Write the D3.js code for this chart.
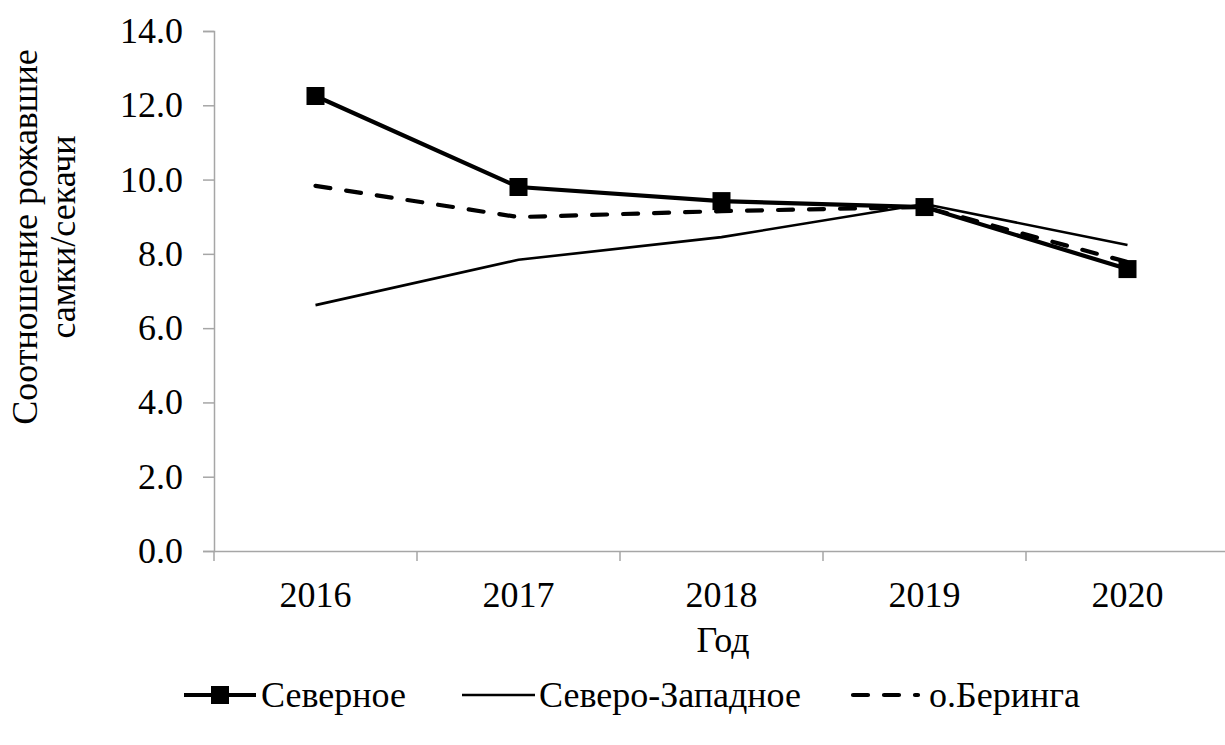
<!DOCTYPE html>
<html><head><meta charset="utf-8">
<script src="https://cdn.jsdelivr.net/npm/d3@7"></script>
<style>body{margin:0;background:#fff}svg{display:block}</style>
</head><body>
<svg id="c" width="1225" height="745"></svg>
<script>
const years = ["2016","2017","2018","2019","2020"];
const severnoe = [12.25, 9.80, 9.42, 9.26, 7.59];
const severoZapadnoe = [6.62, 7.84, 8.45, 9.34, 8.24];
const beringa = [9.83, 8.99, 9.15, 9.26, 7.78];
const yTicks = [0,2,4,6,8,10,12,14];
const seriesNames = ["Северное","Северо-Западное","о.Беринга"];

(function(){
const svg = d3.select("#c");
const pLeft = 214, pRight = 1229, pTop = 31, pBottom = 551;
const x = d3.scaleBand().domain(years).range([pLeft, pRight]);
const y = d3.scaleLinear().domain([0,14]).range([pBottom, pTop]);
const axisColor = "#a6a6a6";
const FS = "36px";

const ya = svg.append("g").attr("transform",`translate(${pLeft},0)`)
  .call(d3.axisLeft(y).tickValues(yTicks).tickFormat(d3.format(".1f")).tickSize(11).tickPadding(20));
ya.select(".domain").attr("stroke",axisColor).attr("stroke-width",1.5);
ya.selectAll(".tick line").attr("stroke",axisColor).attr("stroke-width",1.5);

const xa = svg.append("g").attr("transform",`translate(0,${pBottom})`)
  .call(d3.axisBottom(x).tickSize(0).tickPadding(30));
xa.select(".domain").attr("stroke",axisColor).attr("stroke-width",1.5);
const bounds = years.map(d => x(d)).concat([x(years[years.length-1]) + x.bandwidth()]);
xa.selectAll(".bt").data(bounds).enter().append("line")
  .attr("x1",d=>d).attr("x2",d=>d).attr("y1",0).attr("y2",10)
  .attr("stroke",axisColor).attr("stroke-width",1.5);

const cx = d => x(d) + x.bandwidth()/2;
const line = d3.line().x((d,i)=>cx(years[i])).y(d=>y(d));

svg.append("path").datum(severoZapadnoe).attr("d",line)
  .attr("fill","none").attr("stroke","#000").attr("stroke-width",2.6);
svg.append("path").datum(beringa).attr("d",line)
  .attr("fill","none").attr("stroke","#000").attr("stroke-width",4.2)
  .attr("stroke-dasharray","15,16").attr("stroke-linecap","round");
svg.append("path").datum(severnoe).attr("d",line)
  .attr("fill","none").attr("stroke","#000").attr("stroke-width",4.2);
svg.selectAll(".m").data(severnoe).enter().append("rect")
  .attr("x",(d,i)=>cx(years[i])-9).attr("y",d=>y(d)-9)
  .attr("width",18).attr("height",18).attr("fill","#000");

svg.append("text").attr("x",723).attr("y",652).attr("text-anchor","middle").text("Год");
const yl = svg.append("text").attr("transform","translate(0,237) rotate(-90)")
  .attr("text-anchor","middle");
yl.append("tspan").attr("x",0).attr("y",37).text("Соотношение рожавшие");
yl.append("tspan").attr("x",0).attr("y",75).text("самки/секачи");

const ly = 695;
const lg = svg.append("g");
lg.append("line").attr("x1",184).attr("x2",256).attr("y1",ly).attr("y2",ly)
  .attr("stroke","#000").attr("stroke-width",4.2);
lg.append("rect").attr("x",211).attr("y",ly-9).attr("width",18).attr("height",18).attr("fill","#000");
lg.append("text").attr("x",261).attr("y",ly+12).text(seriesNames[0]);
lg.append("line").attr("x1",462).attr("x2",535).attr("y1",ly).attr("y2",ly)
  .attr("stroke","#000").attr("stroke-width",2.6);
lg.append("text").attr("x",539).attr("y",ly+12).text(seriesNames[1]);
lg.append("line").attr("x1",853).attr("x2",918).attr("y1",ly).attr("y2",ly)
  .attr("stroke","#000").attr("stroke-width",4.2).attr("stroke-dasharray","15,16").attr("stroke-linecap","round");
lg.append("text").attr("x",929).attr("y",ly+12).text(seriesNames[2]);

svg.selectAll("text").style("font-family",'"Liberation Serif"').style("font-size",FS).attr("fill","#000");
})();
</script>
</body></html>
